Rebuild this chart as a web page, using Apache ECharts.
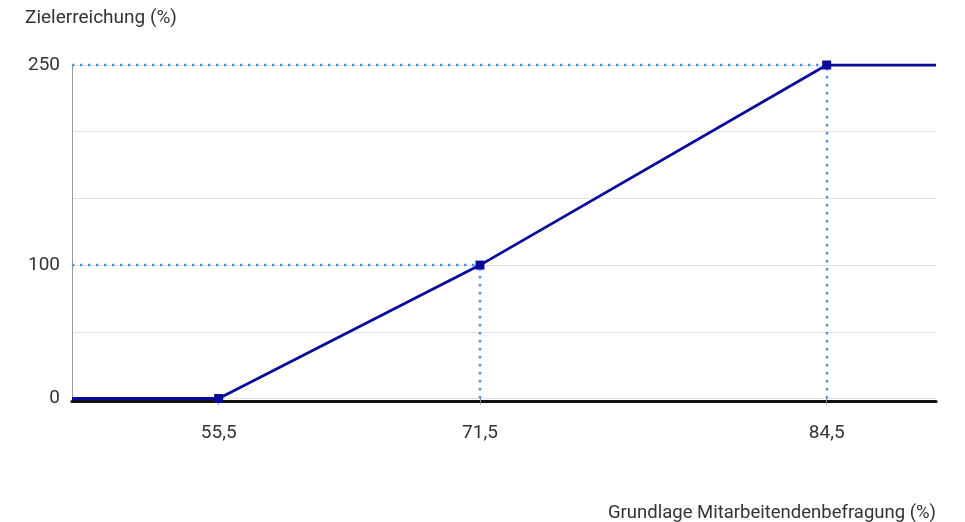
<!DOCTYPE html>
<html>
<head>
<meta charset="utf-8">
<script src="https://cdn.jsdelivr.net/npm/echarts@6/dist/echarts.min.js"></script>
<style>html,body{margin:0;padding:0;background:#fff}#c{width:965px;height:522px}</style>
</head>
<body>
<div id="c"></div>
<script>
// Data
const xValues = [50, 55.5, 71.5, 84.5, 88.6];   // Grundlage Mitarbeitendenbefragung (%)
const yValues = [0, 0, 100, 250, 250];          // Zielerreichung (%)
const xTickLabels = [55.5, 71.5, 84.5];
const yTickLabels = [0, 100, 250];
const xTitle = 'Grundlage Mitarbeitendenbefragung (%)';
const yTitle = 'Zielerreichung (%)';

const font = 'Roboto, "Open Sans", sans-serif';
const txt = '#333';
const fs = 19;
const fmt = v => String(v).replace('.', ',');

const lineData = xValues.map((x, i) => [x, yValues[i]]);
const guides = [];
xTickLabels.forEach(x => {
  const y = yValues[xValues.indexOf(x)];
  if (y > 0) {
    guides.push([{ coord: [xValues[0], y] }, { coord: [x, y] }]);
    guides.push([{ coord: [x, 0] }, { coord: [x, y] }]);
  }
});

const chart = echarts.init(document.getElementById('c'), null, { renderer: 'canvas' });
chart.setOption({
  animation: false,
  backgroundColor: '#fff',
  textStyle: { fontFamily: font },
  title: [
    { text: yTitle, left: 25, top: 9, padding: 0,
      textStyle: { fontFamily: font, fontSize: fs, fontWeight: 'normal', color: txt } },
    { text: xTitle, right: 29, top: 504, padding: 0,
      textStyle: { fontFamily: font, fontSize: 18.5, fontWeight: 'normal', color: txt } }
  ],
  grid: { left: 72, right: 29, top: 65, bottom: 123.5, containLabel: false },
  xAxis: [{
    type: 'value',
    min: xValues[0],
    max: xValues[xValues.length - 1],
    breaks: [{ start: 60, end: 70, gap: 3.8 }],
    breakArea: { show: false, expandOnClick: false },
    axisLine: { show: false },
    offset: 6,
    axisTick: { show: true, customValues: xTickLabels, length: 6, lineStyle: { color: '#8a8a8a', width: 1 } },
    axisLabel: { customValues: xTickLabels, formatter: fmt, margin: 19,
      fontFamily: font, fontSize: fs, color: txt },
    splitLine: { show: false }
  }, {
    // plain baseline (black axis line) without the break gap
    type: 'value', min: 0, max: 1, position: 'bottom', offset: 3,
    axisLine: { show: true, onZero: false, lineStyle: { color: '#111', width: 3.2 } },
    axisTick: { show: false }, axisLabel: { show: false }, splitLine: { show: false }
  }],
  yAxis: {
    type: 'value',
    min: 0, max: 250, interval: 50,
    axisLine: { show: true, lineStyle: { color: '#999', width: 1 } },
    axisTick: { show: false },
    axisLabel: { formatter: v => yTickLabels.includes(v) ? String(v) : '', margin: 12,
      padding: [4, 0, 0, 0], fontFamily: font, fontSize: fs, color: txt },
    splitLine: { show: true, lineStyle: { color: '#e2e2e2', width: 1 } }
  },
  series: [{
    type: 'line',
    xAxisIndex: 0,
    data: lineData,
    symbol: (val) => xTickLabels.includes(val[0]) ? 'rect' : 'none',
    symbolSize: 9,
    showAllSymbol: true,
    lineStyle: { color: '#0a0a9c', width: 2.8 },
    itemStyle: { color: '#0a0a9c' },
    z: 5,
    markLine: {
      silent: true,
      symbol: ['none', 'none'],
      label: { show: false },
      lineStyle: { color: '#4a90f5', width: 2.4, type: [2.4, 5.6] },
      data: guides,
      z: 3
    }
  }]
});
</script>
</body>
</html>
